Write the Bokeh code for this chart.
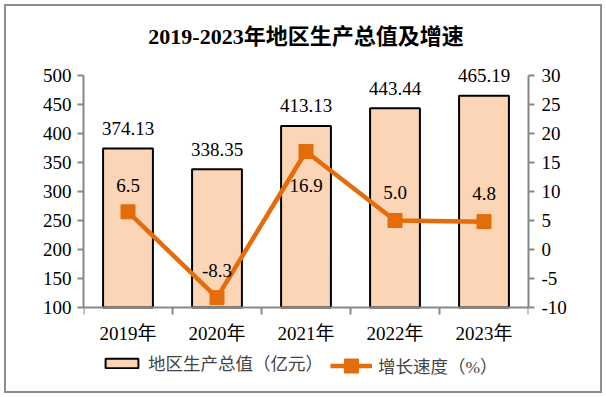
from bokeh.plotting import figure
from bokeh.models import (Range1d, LinearAxis, FixedTicker, ColumnDataSource,
                          LabelSet, Legend, LegendItem)
from bokeh.embed import file_html
from bokeh.resources import INLINE

years = ["2019年", "2020年", "2021年", "2022年", "2023年"]
gdp = [374.13, 338.35, 413.13, 443.44, 465.19]
growth = [6.5, -8.3, 16.9, 5.0, 4.8]
gdp_labels = ["374.13", "338.35", "413.13", "443.44", "465.19"]
growth_labels = ["6.5", "-8.3", "16.9", "5.0", "4.8"]
left_ticks = [100, 150, 200, 250, 300, 350, 400, 450, 500]
right_ticks = [-10, -5, 0, 5, 10, 15, 20, 25, 30]
left_lim = (100, 500)
right_lim = (-10, 30)

# style: label vertical offsets (px) for growth labels
growth_dy = [26, 27, -34, 28, 28]

FONT = "'Liberation Serif', 'Noto Sans CJK SC'"
BAR_FILL = "#FBD5B5"
ORANGE = "#E46C0A"
AXIS_GRAY = "#878787"

AXIS_H = 232      # px height of the axis span
HEAD = 20         # px of frame above the axes' top (room for labels)
FOOT = 84         # px of frame below the axes' bottom (x labels + legend)
lpx = (left_lim[1] - left_lim[0]) / AXIS_H
rpx = (right_lim[1] - right_lim[0]) / AXIS_H

xs = [i + 0.5 for i in range(len(years))]

p = figure(output_backend="svg", toolbar_location=None,
           frame_width=445, frame_height=AXIS_H + HEAD + FOOT,
           min_border_left=77, min_border_right=72,
           min_border_top=49, min_border_bottom=0,
           x_range=Range1d(0, len(years)),
           y_range=Range1d(left_lim[0] - FOOT * lpx, left_lim[1] + HEAD * lpx),
           title="2019-2023年地区生产总值及增速")
p.styles = {"border": "2px solid #8e8e8e",
            "margin-left": "4px", "margin-top": "4px"}
p.extra_y_ranges = {"r": Range1d(right_lim[0] - FOOT * rpx,
                                 right_lim[1] + HEAD * rpx)}
p.outline_line_color = None
p.grid.visible = False
p.background_fill_color = "white"
p.border_fill_color = "white"

p.title.align = "center"
p.title.text_font = FONT
p.title.text_font_size = "22px"
p.title.text_font_style = "bold"
p.title.text_color = "black"
p.title.standoff = 13

def style_axis(ax):
    ax.axis_line_color = AXIS_GRAY
    ax.axis_line_width = 2
    ax.major_tick_line_color = AXIS_GRAY
    ax.major_tick_line_width = 2
    ax.major_tick_out = 6
    ax.major_tick_in = 0
    ax.minor_tick_line_color = None
    ax.major_label_text_font = FONT
    ax.major_label_text_font_size = "19px"
    ax.major_label_text_color = "black"
    ax.major_label_standoff = 6

p.xaxis.ticker = FixedTicker(ticks=xs, minor_ticks=list(range(len(years) + 1)))
p.xaxis.major_label_overrides = {x: y for x, y in zip(xs, years)}
p.xaxis.fixed_location = left_lim[0]
style_axis(p.xaxis[0])
p.xaxis.major_tick_line_color = None
p.xaxis.minor_tick_line_color = AXIS_GRAY
p.xaxis.minor_tick_line_width = 2
p.xaxis.minor_tick_out = 7
p.xaxis.minor_tick_in = 0
p.xaxis.major_label_standoff = 8

p.yaxis.ticker = FixedTicker(ticks=left_ticks)
p.yaxis.bounds = left_lim
style_axis(p.yaxis[0])

right = LinearAxis(y_range_name="r", ticker=FixedTicker(ticks=right_ticks),
                   bounds=right_lim)
right.major_label_overrides = {t: str(t) for t in right_ticks}
style_axis(right)
right.major_label_standoff = 7
p.add_layout(right, "right")

src = ColumnDataSource(dict(x=xs, gdp=gdp, growth=growth,
                            gl=gdp_labels, rl=growth_labels, dy=growth_dy))
bars = p.vbar(x="x", top="gdp", bottom=left_lim[0], width=0.56, source=src,
              fill_color=BAR_FILL, line_color="black", line_width=2)

line = p.line(x="x", y="growth", y_range_name="r", source=src,
              line_color=ORANGE, line_width=4.5)
pts = p.scatter(x="x", y="growth", y_range_name="r", source=src,
                marker="square", size=14, fill_color=ORANGE, line_color=ORANGE)

p.add_layout(LabelSet(x="x", y="gdp", text="gl", source=src,
                      text_align="center", text_baseline="middle",
                      y_offset=20, text_font=FONT, text_font_size="19px",
                      text_color="black"))
p.add_layout(LabelSet(x="x", y="growth", text="rl", source=src, y_range_name="r",
                      text_align="center", text_baseline="middle",
                      y_offset="dy", text_font=FONT, text_font_size="19px",
                      text_color="black"))

common = dict(orientation="horizontal", label_text_font=FONT,
              label_text_font_size="17.5px", label_standoff=6,
              border_line_color=None, background_fill_alpha=0,
              margin=0, padding=0)
legend_bar = Legend(items=[LegendItem(label="地区生产总值（亿元）", renderers=[bars])],
                    location=(18, 16), glyph_width=41, glyph_height=12,
                    label_height=18, **common)
legend_line = Legend(items=[LegendItem(label="增长速度（%）", renderers=[line, pts])],
                     location=(247, 8), glyph_width=42, glyph_height=35,
                     label_height=35, **common)
p.add_layout(legend_bar, "center")
p.add_layout(legend_line, "center")

open("out.html", "w").write(file_html(p, INLINE))
